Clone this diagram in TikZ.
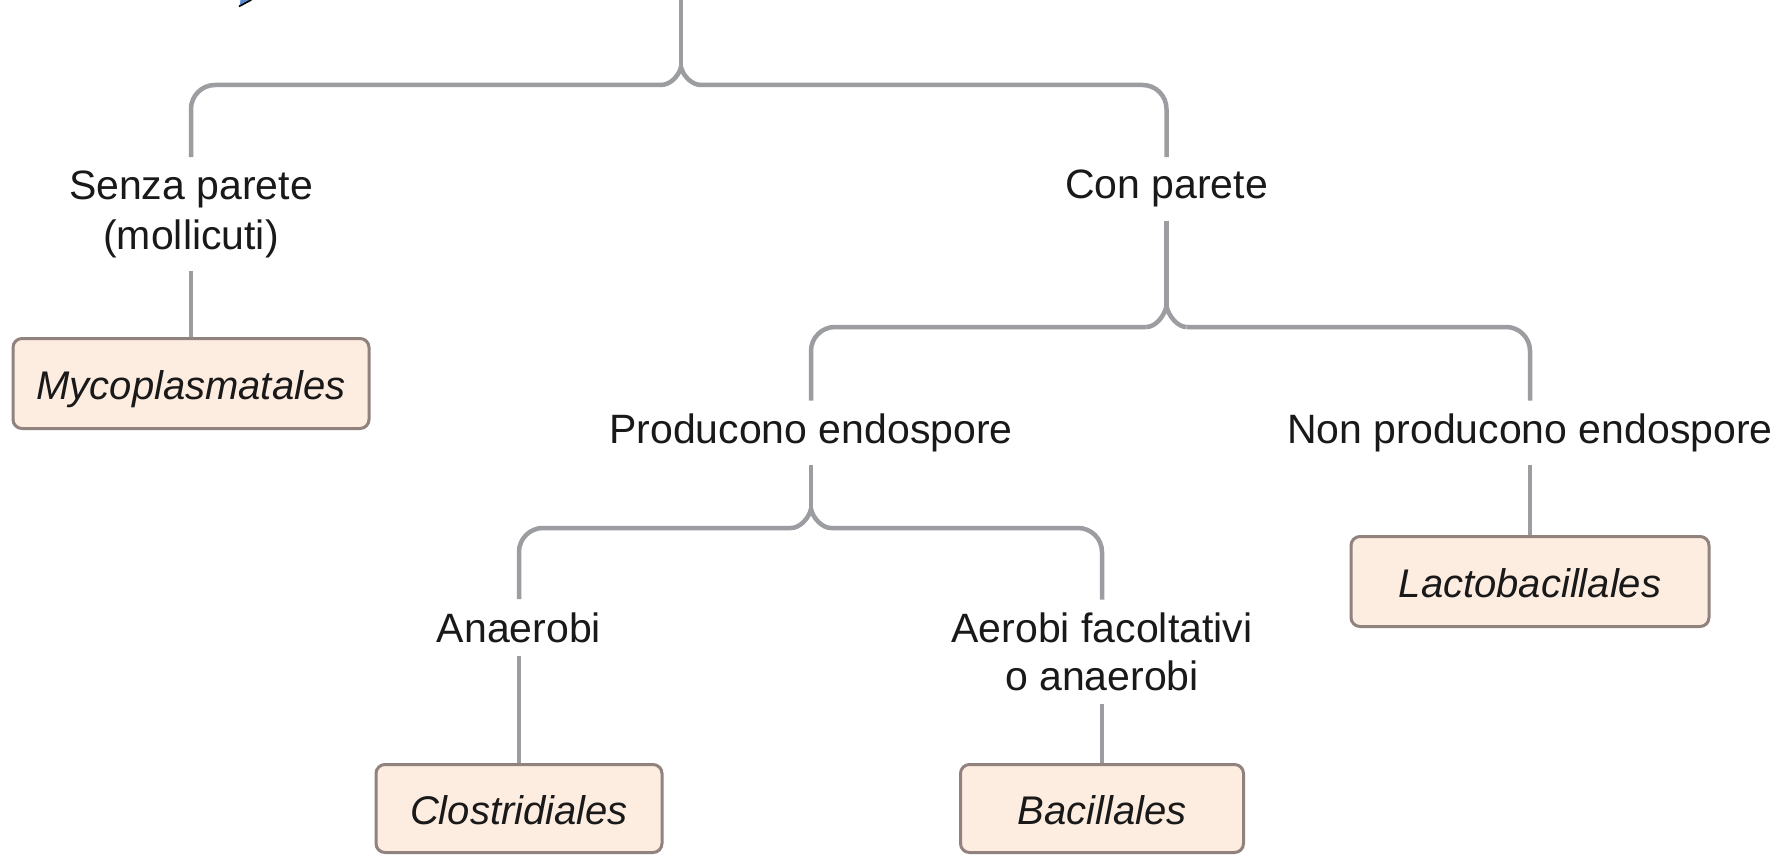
\documentclass[tikz,border=0pt]{standalone}
\usepackage{fontspec}
\setmainfont{Liberation Sans}
\usetikzlibrary{calc}
\definecolor{linegray}{RGB}{155,157,160}
\definecolor{boxfill}{RGB}{253,236,224}
\definecolor{boxborder}{RGB}{145,130,126}
\definecolor{txt}{RGB}{25,25,25}
\definecolor{arrowblue}{RGB}{90,140,210}
\tikzset{
  lbl/.style={font=\fontsize{41}{50}\selectfont, text=txt, align=center, inner xsep=0pt, inner ysep=13pt},
  taxon/.style={draw=boxborder, line width=3pt, fill=boxfill, rounded corners=9pt,
    font=\fontsize{40}{44}\selectfont\itshape, text=txt, inner sep=0pt, text height=31pt, text depth=0pt},
  conn/.style={draw=linegray, line width=4.5pt},
  bar/.style={conn, rounded corners=24pt},
}
\begin{document}
\begin{tikzpicture}[x=1pt,y=-1pt]
\useasboundingbox[fill=white] (0,0) rectangle (1781,856);

% blue fragment at top edge
\fill[arrowblue] (239.5,6) -- (240.5,0) -- (253,0) -- cycle;
\draw[black, line width=1.6pt] (239,6.5) -- (251,0);

% labels
\node[lbl] (senza) at (191,214) {Senza parete\\(mollicuti)};
\node[lbl] (con) at (1166.5,188.9) {Con parete};
\node[lbl] (prod) at (811,432.9) {Producono endospore};
\node[lbl] (non) at (1530,432.9) {Non producono endospore};
\node[lbl] (ana) at (519,627.5) {Anaerobi};
\node[lbl, font=\fontsize{41}{48}\selectfont] (aer) at (1102,652) {Aerobi facoltativi\\o anaerobi};

% taxon boxes
\node[taxon, minimum width=356pt, minimum height=90pt] (myco) at (191,383.5) {Mycoplasmatales};
\node[taxon, minimum width=358pt, minimum height=90pt] (lacto) at (1530,581.5) {Lactobacillales};
\node[taxon, minimum width=286pt, minimum height=88pt] (clos) at (519,808.5) {Clostridiales};
\node[taxon, minimum width=283pt, minimum height=88pt] (baci) at (1102,808.5) {Bacillales};

% junction points (apex of each cusp) and bar ends
\coordinate (root) at (681,-2);
\coordinate (j1) at (681,67);
\coordinate (j1l) at (661,85);
\coordinate (j1r) at (701,85);
\coordinate (j2) at (1166.5,306);
\coordinate (j2l) at (1146.5,327);
\coordinate (j2r) at (1186.5,327);
\coordinate (j3) at (811,509);
\coordinate (j3l) at (791,528);
\coordinate (j3r) at (831,528);

% top bracket
\draw[conn] (root) -- (j1);
\draw[bar] (senza.north) |- (j1l);
\draw[conn] (j1l) .. controls +(9,0) and +(-2,9) .. (j1) .. controls +(2,9) and +(-9,0) .. (j1r);
\draw[bar] (j1r) -| (con.north);

% Con parete bracket
\draw[conn] (con.south) -- (j2);
\draw[bar] (prod.north) |- (j2l);
\draw[conn] (j2l) .. controls +(9,0) and +(-2,10) .. (j2) .. controls +(2,10) and +(-9,0) .. (j2r);
\draw[bar] (j2r) -| (non.north);

% Producono endospore bracket
\draw[conn] (prod.south) -- (j3);
\draw[bar] (ana.north) |- (j3l);
\draw[conn] (j3l) .. controls +(9,0) and +(-2,9) .. (j3) .. controls +(2,9) and +(-9,0) .. (j3r);
\draw[bar] (j3r) -| (aer.north);

% straight connectors
\draw[conn] (senza.south) -- (myco.north);
\draw[conn] (non.south) -- (lacto.north);
\draw[conn] (ana.south) -- (clos.north);
\draw[conn] (aer.south) -- (baci.north);
\end{tikzpicture}
\end{document}
